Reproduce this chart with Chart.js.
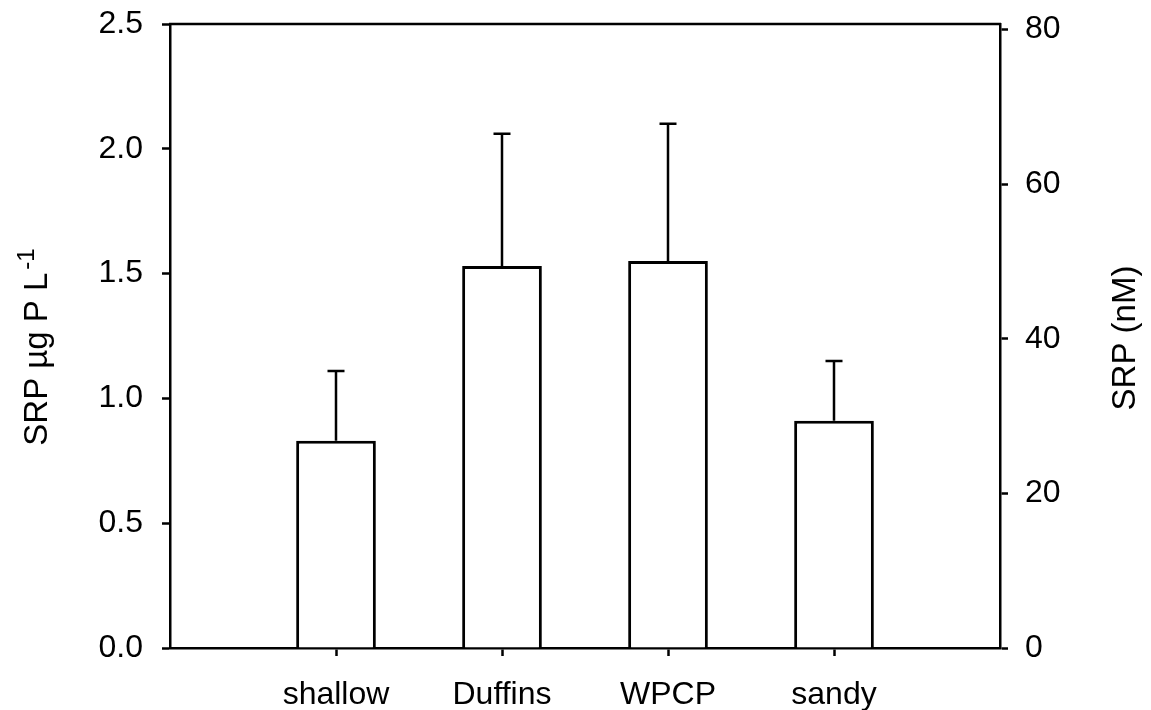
<!DOCTYPE html>
<html>
<head>
<meta charset="utf-8">
<title>SRP by site</title>
<script src="https://cdn.jsdelivr.net/npm/chart.js@4.4.0/dist/chart.umd.min.js"></script>
<style>
  html, body { margin: 0; padding: 0; background: #fff; }
  #wrap { width: 1151px; height: 710px; }
</style>
</head>
<body>
<div id="wrap"><canvas id="srpChart"></canvas></div>
<script>
const sites = ['shallow', 'Duffins', 'WPCP', 'sandy'];
const srpMean = [0.83, 1.53, 1.55, 0.91];
const srpErr = [0.28, 0.53, 0.55, 0.24];
const leftTicks = [0, 0.5, 1.0, 1.5, 2.0, 2.5];
const rightTicks = [0, 20, 40, 60, 80];
const UG_TO_NM = 32.29; // 1 ug P/L in nM

const FONT = "'Liberation Sans', Arial, Helvetica, sans-serif";
const LINE = 2.5;

// empty slot at each end so the bars sit at 1..4 on a 0..5 axis
const labels = [''].concat(sites, ['']);
const values = [null].concat(srpMean, [null]);
const errors = [null].concat(srpErr, [null]);

// keep tick-label overhang from pushing the plot area around
function noPad(s) {
    s.paddingTop = 0;
    s.paddingBottom = 0;
    s.paddingLeft = 0;
    s.paddingRight = 0;
}

const extras = {
    id: 'extras',
    afterDatasetsDraw(chart) {
        const ctx = chart.ctx;
        const x = chart.scales.x;
        const y = chart.scales.y;
        const area = chart.chartArea;
        ctx.save();
        ctx.strokeStyle = '#000';
        ctx.lineWidth = LINE;

        // upper error bars with caps
        values.forEach(function (v, i) {
            if (v === null) return;
            const px = x.getPixelForValue(i);
            const base = y.getPixelForValue(v);
            const top = y.getPixelForValue(v + errors[i]);
            ctx.beginPath();
            ctx.moveTo(px, base);
            ctx.lineTo(px, top);
            ctx.moveTo(px - 8.5, top);
            ctx.lineTo(px + 8.5, top);
            ctx.stroke();
        });

        // top edge of the frame
        ctx.beginPath();
        ctx.moveTo(area.left - 1, area.top);
        ctx.lineTo(area.right + 1, area.top);
        ctx.stroke();

        // left title with superscript, reading bottom to top
        ctx.fillStyle = '#000';
        ctx.textBaseline = 'alphabetic';
        ctx.textAlign = 'left';
        ctx.save();
        ctx.translate(47, 347);
        ctx.rotate(-Math.PI / 2);
        const main = 'SRP \u00b5g P L';
        const sup = '-1';
        ctx.font = '33px ' + FONT;
        const mw = ctx.measureText(main).width;
        ctx.font = '24px ' + FONT;
        const sw = ctx.measureText(sup).width;
        const start = -(mw + sw + 3) / 2;
        ctx.font = '33px ' + FONT;
        ctx.fillText(main, start, 0);
        ctx.font = '24px ' + FONT;
        ctx.fillText(sup, start + mw + 3, -13);
        ctx.restore();

        // right title
        ctx.save();
        ctx.translate(1135, 338);
        ctx.rotate(-Math.PI / 2);
        ctx.textAlign = 'center';
        ctx.font = '33px ' + FONT;
        ctx.fillText('SRP (nM)', 0, 0);
        ctx.restore();

        ctx.restore();
    }
};

const tickFont = { family: FONT, size: 32 };

const config = {
    type: 'bar',
    data: {
        labels: labels,
        datasets: [{
            data: values,
            backgroundColor: '#fff',
            borderColor: '#000',
            borderWidth: 3,
            barPercentage: 0.48,
            categoryPercentage: 1.0
        }]
    },
    options: {
        responsive: true,
        maintainAspectRatio: false,
        animation: false,
        devicePixelRatio: 1,
        layout: { padding: { top: 24, left: 0, right: 0, bottom: 0 } },
        plugins: {
            legend: { display: false },
            tooltip: { enabled: false }
        },
        scales: {
            x: {
                type: 'category',
                offset: false,
                grid: {
                    offset: false,
                    drawOnChartArea: false,
                    tickLength: 8,
                    tickWidth: LINE,
                    tickColor: function (c) {
                        return labels[c.index] ? '#000' : 'rgba(0,0,0,0)';
                    }
                },
                border: { color: '#000', width: LINE },
                ticks: {
                    color: '#000',
                    font: tickFont,
                    padding: 20,
                    autoSkip: false,
                    maxRotation: 0
                },
                afterFit: function (s) { noPad(s); s.height = 62; }
            },
            y: {
                position: 'left',
                min: 0,
                max: 2.5,
                afterBuildTicks: function (s) {
                    s.ticks = leftTicks.map(function (v) { return { value: v }; });
                },
                grid: { drawOnChartArea: false, tickLength: 8, tickWidth: LINE, tickColor: '#000' },
                border: { color: '#000', width: LINE },
                ticks: {
                    color: '#000',
                    font: tickFont,
                    padding: 19,
                    callback: function (v) { return Number(v).toFixed(1); }
                },
                afterFit: function (s) { noPad(s); s.width = 170; }
            },
            y2: {
                position: 'right',
                min: 0,
                max: 2.5 * UG_TO_NM,
                afterBuildTicks: function (s) {
                    s.ticks = rightTicks.map(function (v) { return { value: v }; });
                },
                grid: { drawOnChartArea: false, tickLength: 8, tickWidth: LINE, tickColor: '#000' },
                border: { color: '#000', width: LINE },
                ticks: {
                    color: '#000',
                    font: tickFont,
                    padding: 17,
                    callback: function (v) { return String(v); }
                },
                afterFit: function (s) { noPad(s); s.width = 151; }
            }
        }
    },
    plugins: [extras]
};

new Chart(document.getElementById('srpChart'), config);
</script>
</body>
</html>
